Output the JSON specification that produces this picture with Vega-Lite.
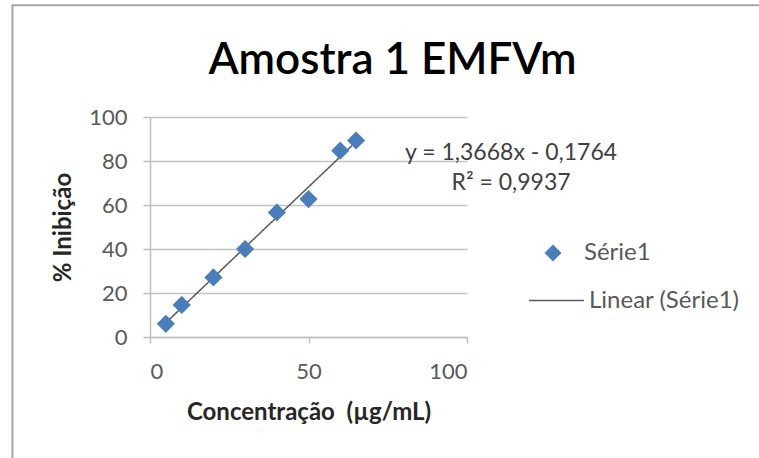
{
  "$schema": "https://vega.github.io/schema/vega-lite/v6.json",
  "width": 317,
  "height": 220,
  "autosize": {"type": "none"},
  "padding": {"left": 150, "top": 117, "right": 292, "bottom": 121},
  "background": "white",
  "title": {
    "text": "Amostra 1 EMFVm",
    "font": "Lato",
    "fontSize": 44,
    "fontWeight": 600,
    "color": "#000000",
    "anchor": "middle",
    "frame": "group",
    "dx": 84,
    "offset": -114,
    "baseline": "alphabetic"
  },
  "config": {
    "view": {"stroke": null},
    "axis": {
      "labelFont": "Lato",
      "labelFontSize": 22,
      "labelColor": "#595959",
      "titleFont": "Lato",
      "titleFontSize": 24,
      "titleFontWeight": "bold",
      "titleColor": "#262626",
      "domainColor": "#bfbfbf",
      "domainWidth": 1.5,
      "tickColor": "#bfbfbf",
      "tickWidth": 1.5,
      "gridColor": "#c4c4c4",
      "gridWidth": 1.5
    },
    "legend": {
      "labelFont": "Lato",
      "labelFontSize": 24,
      "labelColor": "#595959",
      "padding": 0,
      "title": null
    }
  },
  "datasets": {
    "points": [
      {"x": 5, "y": 6.0},
      {"x": 10, "y": 14.6},
      {"x": 20, "y": 27.1},
      {"x": 30, "y": 40.0},
      {"x": 40, "y": 56.6},
      {"x": 50, "y": 62.7},
      {"x": 60, "y": 84.7},
      {"x": 65, "y": 89.3}
    ]
  },
  "layer": [
    {
      "data": {"values": [{"frame": "border"}]},
      "mark": {"type": "rect", "fill": null, "stroke": "#a6a6a6", "strokeWidth": 2, "clip": false},
      "encoding": {
        "x": {"datum": -43.4, "type": "quantitative"},
        "x2": {"datum": 195},
        "y": {"datum": 150.8, "type": "quantitative"},
        "y2": {"datum": -60}
      }
    },
    {
      "data": {"name": "points"},
      "transform": [{"regression": "y", "on": "x", "extent": [5, 65]}],
      "mark": {"type": "line", "color": "#595959", "strokeWidth": 1.5},
      "encoding": {
        "x": {"field": "x", "type": "quantitative", "scale": {"domain": [0, 100], "nice": false},
          "axis": {"values": [0, 50, 100], "grid": false, "title": "Concentração\u00a0 (µg/mL)", "tickSize": 6, "labelPadding": 18, "titlePadding": 18}},
        "y": {"field": "y", "type": "quantitative", "scale": {"domain": [0, 100], "nice": false},
          "axis": {"values": [0, 20, 40, 60, 80, 100], "grid": true, "title": "% Inibição", "tickSize": 7, "labelPadding": 16, "titlePadding": 13}},
        "strokeDash": {"datum": "Linear (Série1)", "type": "nominal",
          "scale": {"domain": ["Linear (Série1)"], "range": [[1, 0]]},
          "legend": {"orient": "none", "legendX": 378, "legendY": 155, "symbolType": "stroke", "symbolSize": 3025,
            "symbolStrokeColor": "#595959", "symbolStrokeWidth": 1.5, "labelOffset": 4}}
      }
    },
    {
      "data": {"name": "points"},
      "mark": {"type": "point", "filled": true, "opacity": 1, "size": 330},
      "encoding": {
        "x": {"field": "x", "type": "quantitative"},
        "y": {"field": "y", "type": "quantitative"},
        "shape": {"datum": "Série1", "type": "nominal",
          "scale": {"domain": ["Série1"], "range": ["diamond"]},
          "legend": {"orient": "none", "legendX": 391, "legendY": 124, "symbolSize": 290, "labelOffset": 19}},
        "color": {"datum": "Série1", "type": "nominal",
          "scale": {"domain": ["Série1"], "range": ["#4a7ebb"]},
          "legend": {"orient": "none", "legendX": 391, "legendY": 124, "symbolSize": 290, "labelOffset": 19}}
      }
    },
    {
      "data": {"values": [{"label": "y = 1,3668x - 0,1764\nR² = 0,9937"}]},
      "mark": {"type": "text", "font": "Lato", "fontSize": 23, "color": "#404040", "align": "center", "baseline": "middle", "lineBreak": "\n", "lineHeight": 30, "clip": false},
      "encoding": {
        "text": {"field": "label"},
        "x": {"datum": 113.9, "type": "quantitative"},
        "y": {"datum": 83.6, "type": "quantitative"}
      }
    }
  ]
}
